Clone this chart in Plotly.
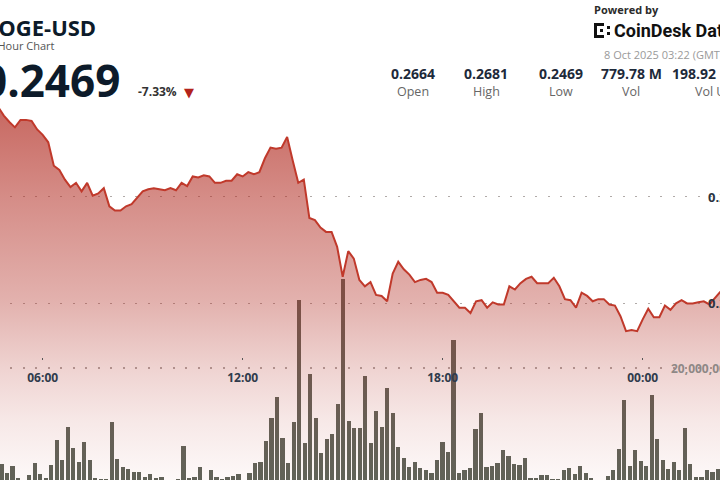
import pandas as pd
import plotly.graph_objects as go

W, H = 720, 480

# ---------------- data ----------------
price_start = "2025-10-07 04:40"
prices = [
    0.2684, 0.2676, 0.2670, 0.2665, 0.2672, 0.2672, 0.2671, 0.2663, 0.2658, 0.2651,
    0.2629, 0.2625, 0.2616, 0.2609, 0.2613, 0.2605, 0.2613, 0.2601, 0.2603, 0.2608,
    0.2591, 0.2587, 0.2587, 0.2591, 0.2593, 0.2599, 0.2605, 0.2607, 0.2608, 0.2607,
    0.2606, 0.2608, 0.2606, 0.2613, 0.2610, 0.2619, 0.2618, 0.2620, 0.2619, 0.2613,
    0.2613, 0.2615, 0.2615, 0.2621, 0.2619, 0.2623, 0.2621, 0.2623, 0.2636, 0.2646,
    0.2645, 0.2646, 0.2656, 0.2634, 0.2613, 0.2616, 0.2580, 0.2578, 0.2571, 0.2567,
    0.2567, 0.2553, 0.2525, 0.2549, 0.2542, 0.2522, 0.2516, 0.2520, 0.2508, 0.2507,
    0.2502, 0.2528, 0.2539, 0.2532, 0.2527, 0.2520, 0.2522, 0.2523, 0.2520, 0.2510,
    0.2510, 0.2508, 0.2502, 0.2496, 0.2496, 0.2491, 0.2502, 0.2503, 0.2496, 0.2501,
    0.2499, 0.2499, 0.2516, 0.2513, 0.2519, 0.2523, 0.2525, 0.2519, 0.2519, 0.2519,
    0.2524, 0.2516, 0.2504, 0.2503, 0.2496, 0.2510, 0.2507, 0.2502, 0.2504, 0.2504,
    0.2499, 0.2498, 0.2488, 0.2474, 0.2475, 0.2474, 0.2485, 0.2495, 0.2487, 0.2487,
    0.2498, 0.2494, 0.2500, 0.2503, 0.2500, 0.2500, 0.2501, 0.2502, 0.2499, 0.2505,
    0.2511,
]
price_times = pd.date_range(price_start, periods=len(prices), freq="10min")

# volume per bar, in millions
volumes_m = [
    3.73, 2.15, 3.39, 1.31, 0.50, 1.86, 3.85, 2.03, 1.41, 3.56,
    7.80, 4.41, 10.05, 6.49, 4.12, 7.41, 4.41, 1.31, 1.24, 1.14,
    10.90, 4.53, 3.27, 2.88, 2.42, 2.42, 1.58, 2.03, 1.41, 1.53,
    0.60, 0.50, 1.24, 6.78, 1.41, 1.47, 3.22, 0.70, 2.66, 1.58,
    1.19, 1.58, 1.64, 2.03, 0.60, 2.25, 3.98, 4.12, 7.66, 11.61,
    15.05, 8.08, 3.98, 10.90, 31.60, 7.24, 18.98, 11.47, 5.64, 7.92,
    8.81, 13.97, 35.00, 11.07, 9.83, 9.78, 18.64, 7.24, 12.63, 10.05,
    16.66, 12.42, 6.53, 4.69, 3.14, 4.07, 3.10, 2.71, 2.20, 4.41,
    7.42, 5.71, 24.70, 2.15, 2.71, 3.10, 9.61, 12.32, 3.14, 3.44,
    3.85, 6.17, 5.05, 3.68, 3.56, 4.69, 1.44, 1.41, 1.81, 1.81,
    1.25, 1.27, 2.63, 3.05, 2.10, 3.42, 2.20, 1.36, 0.60, 0.50,
    1.69, 2.71, 6.31, 14.58, 3.39, 6.10, 4.27, 3.42, 15.42, 7.97,
    4.49, 2.83, 4.12, 2.63, 9.78, 3.78, 1.47, 1.47, 2.71, 2.29,
    2.83,
]
volumes = [v * 1e6 for v in volumes_m]
bar_index = list(range(len(volumes)))

time_tick_vals = ["2025-10-07 06:00", "2025-10-07 12:00", "2025-10-07 18:00", "2025-10-08 00:00"]
time_tick_text = ["06:00", "12:00", "18:00", "00:00"]
price_ticks = [0.25, 0.26]
price_tick_text = ["0.25", "0.26"]
volume_ticks = [20_000_000]
volume_tick_text = ["20,000,000"]

stat_values = ["0.2664", "0.2681", "0.2469", "779.78 M"]
stat_labels = ["Open", "High", "Low", "Vol"]
stat_centers = [413.5, 486, 561, 631]

# ---------------- helpers ----------------
def px(x):
    return x / W

def py(y):
    return 1 - y / H

FONT = "Open Sans"

fig = go.Figure()

# volume bars (base subplot, drawn first)
fig.add_trace(go.Bar(
    x=bar_index, y=volumes, xaxis="x2", yaxis="y2",
    marker=dict(color="#5e645a", line=dict(width=0)),
    width=0.77, showlegend=False, hoverinfo="skip",
))

# price area (overlay subplot, drawn over bars)
fig.add_trace(go.Scatter(
    x=price_times, y=prices, xaxis="x", yaxis="y",
    mode="lines", line=dict(color="#c0392b", width=2),
    fill="tozeroy",
    fillgradient=dict(
        type="vertical", start=0.23345, stop=0.2684,
        colorscale=[
            [0.0, "rgba(178,45,35,0.03)"],
            [0.16, "rgba(178,45,35,0.11)"],
            [0.30, "rgba(178,45,35,0.21)"],
            [0.48, "rgba(178,45,35,0.37)"],
            [0.75, "rgba(178,45,35,0.54)"],
            [1.0, "rgba(178,45,35,0.72)"],
        ],
    ),
    showlegend=False, hoverinfo="skip",
))

dots = "0px,10px,2px,0.5px"

annotations = []
# price grid labels (right, partially cut)
for v, t in zip(price_ticks, price_tick_text):
    annotations.append(dict(x=px(706), y=v, xref="paper", yref="y", text=t,
                            showarrow=False, xanchor="left", yanchor="middle",
                            font=dict(family=FONT, size=13, color="#2a3342", weight="bold")))
for v, t in zip(volume_ticks, volume_tick_text):
    annotations.append(dict(x=px(669), y=v, xref="paper", yref="y2", text=t,
                            showarrow=False, xanchor="left", yanchor="middle",
                            font=dict(family=FONT, size=12, color="#8e8886", weight="bold")))

# header
annotations += [
    dict(x=px(98), y=py(27), text="DOGE-USD", xanchor="right", yanchor="middle",
         font=dict(family=FONT, size=22, color="#0d1b2a", weight="bold")),
    dict(x=px(57.5), y=py(45), text="24 Hour Chart", xanchor="right", yanchor="middle",
         font=dict(family=FONT, size=11, color="#555555")),
    dict(x=px(122), y=py(80), text="0.2469", xanchor="right", yanchor="middle",
         font=dict(family=FONT, size=44, color="#0d1b2a", weight="bold")),
    dict(x=px(136), y=py(91), text="-7.33%", xanchor="left", yanchor="middle",
         font=dict(family=FONT, size=12, color="#333333", weight="bold")),
    dict(x=px(188.5), y=py(92), text="▼", xanchor="center", yanchor="middle",
         font=dict(family="DejaVu Sans", size=13, color="#b3231b")),
    dict(x=px(592), y=py(9), text="Powered by", xanchor="left", yanchor="middle",
         font=dict(family=FONT, size=11, color="#2b2b2b", weight="bold")),
    dict(x=px(612), y=py(31), text="CoinDesk Data", xanchor="left", yanchor="middle",
         font=dict(family="Roboto", size=18, color="#111111", weight="bold")),
    dict(x=px(602), y=py(54), text="8 Oct 2025 03:22 (GMT)", xanchor="left", yanchor="middle",
         font=dict(family=FONT, size=11, color="#9a9a9a")),
]
for c, v, l in zip(stat_centers, stat_values, stat_labels):
    annotations.append(dict(x=px(c), y=py(73), text=v, xanchor="center", yanchor="middle",
                            font=dict(family=FONT, size=14, color="#1e2a3a", weight="bold")))
    annotations.append(dict(x=px(c), y=py(91), text=l, xanchor="center", yanchor="middle",
                            font=dict(family=FONT, size=12.5, color="#666666")))
annotations.append(dict(x=px(670), y=py(73), text="198.92 M", xanchor="left", yanchor="middle",
                        font=dict(family=FONT, size=14, color="#1e2a3a", weight="bold")))
annotations.append(dict(x=px(693), y=py(91), text="Vol USD", xanchor="left", yanchor="middle",
                        font=dict(family=FONT, size=12.5, color="#666666")))

for a in annotations:
    a.setdefault("showarrow", False)
    a.setdefault("xref", "paper")
    a.setdefault("yref", "paper")

# CoinDesk logo glyph (decorative)
logo = []
def rect(x0, y0, x1, y1):
    logo.append(dict(type="rect", xref="paper", yref="paper",
                     x0=px(x0), x1=px(x1), y0=py(y1), y1=py(y0),
                     fillcolor="#111111", line=dict(width=0)))
rect(594, 23, 597, 38)
rect(594, 23, 604, 26)
rect(594, 35, 604, 38)
rect(600, 29, 603, 32)
rect(607, 26, 610, 29)
rect(607, 32, 610, 35)

fig.update_layout(
    width=W, height=H,
    margin=dict(l=0, r=0, t=0, b=0),
    paper_bgcolor="white", plot_bgcolor="white",
    showlegend=False,
    bargap=0,
    hovermode=False,
    annotations=annotations,
    shapes=logo,
    xaxis2=dict(range=[-0.287, 130.38], visible=False, anchor="y2", fixedrange=True),
    yaxis2=dict(range=[1.017e6, 82.37e6], anchor="x2", tickvals=volume_ticks,
                showticklabels=False, showgrid=True, gridcolor="#b0aaa8", gridwidth=1.5,
                griddash=dots, zeroline=False, showline=False, ticks=""),
    xaxis=dict(type="date", overlaying="x2", anchor="free", position=py(357),
               range=["2025-10-07 04:43:08", "2025-10-08 02:19:09"],
               tickmode="array", tickvals=time_tick_vals, ticktext=time_tick_text,
               ticks="outside", ticklen=2, tickwidth=1.5, tickcolor="#555555",
               ticklabelstandoff=8,
               tickfont=dict(family=FONT, size=12, color="#2f3b4c", weight="bold"),
               showgrid=False, showline=False, zeroline=False),
    yaxis=dict(overlaying="y2", range=[0.233449, 0.278435], tickvals=price_ticks,
               showticklabels=False, showgrid=True, gridcolor="#b0aaa8", gridwidth=1.5,
               griddash=dots, zeroline=False, showline=False, ticks=""),
)

fig.write_html(
    "out.html",
    config={"displayModeBar": False, "staticPlot": True},
    post_script="document.body.style.margin='0';document.body.style.overflow='hidden';",
)
